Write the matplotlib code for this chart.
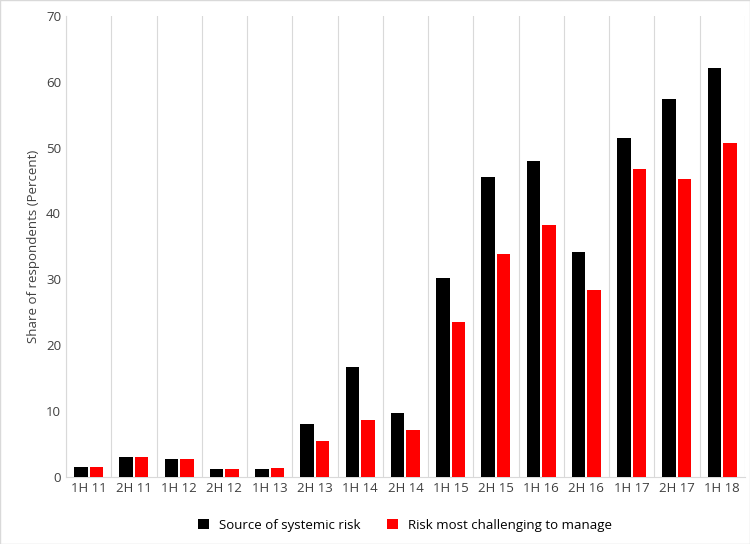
import matplotlib
matplotlib.use("Agg")
import matplotlib.pyplot as plt
import numpy as np

categories = ["1H 11", "2H 11", "1H 12", "2H 12", "1H 13", "2H 13", "1H 14", "2H 14",
              "1H 15", "2H 15", "1H 16", "2H 16", "1H 17", "2H 17", "1H 18"]
systemic = [1.5, 3.0, 2.8, 1.3, 1.3, 8.0, 16.7, 9.7, 30.2, 45.6, 47.9, 34.1, 51.5, 57.3, 62.1]
challenging = [1.6, 3.0, 2.8, 1.3, 1.4, 5.5, 8.6, 7.2, 23.5, 33.9, 38.3, 28.4, 46.8, 45.3, 50.7]

plt.rcParams["font.family"] = ["Open Sans", "DejaVu Sans"]
fig = plt.figure(figsize=(7.5, 5.44), dpi=100)
ax = fig.add_axes([0.088, 0.123, 0.905, 0.848])

x = np.arange(len(categories))
w = 0.3
ax.bar(x - w / 2 - 0.02, systemic, w, color="black", label="Source of systemic risk", zorder=3)
ax.bar(x + w / 2 + 0.02, challenging, w, color="#ff0000", label="Risk most challenging to manage", zorder=3)

ax.set_xlim(-0.5, len(categories) - 0.5)
ax.set_ylim(0, 70)
ax.set_yticks(range(0, 71, 10))
ax.set_xticks(x)
ax.set_xticklabels(categories)
ax.set_xticks(np.arange(-0.5, len(categories)), minor=True)
ax.grid(axis="x", which="minor", color="#d9d9d9", linewidth=0.8, zorder=0)
ax.tick_params(axis="both", which="both", length=0, labelsize=9.5, colors="#404040")
ax.set_ylabel("Share of respondents (Percent)", fontsize=9.5, color="#404040")
for s in ["top", "right"]:
    ax.spines[s].set_visible(False)
ax.spines["left"].set_color("#d9d9d9")
ax.spines["bottom"].set_color("#d9d9d9")

ax.legend(loc="upper center", bbox_to_anchor=(0.5, -0.065), ncol=2, frameon=False,
          fontsize=9.5, handlelength=0.8, handleheight=0.8, columnspacing=2.0)
fig.patches.append(plt.Rectangle((0, 0), 1, 1, transform=fig.transFigure, fill=False,
                                 edgecolor="#d9d9d9", linewidth=1))
fig.savefig("out.png", dpi=100)
